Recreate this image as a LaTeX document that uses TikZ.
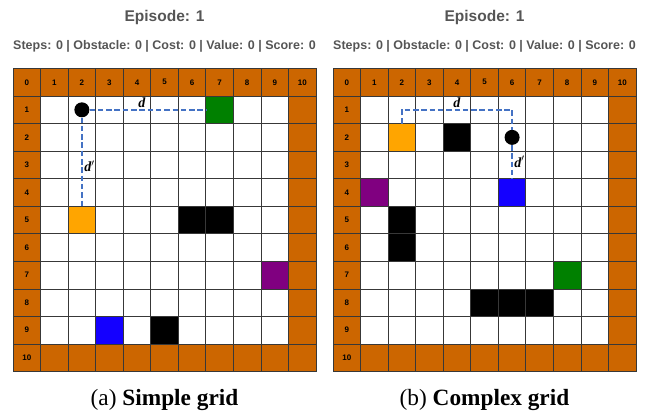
\documentclass[tikz,border=0pt]{standalone}
\usepackage{amsmath}
\usepackage{fontspec}
\setmainfont{Liberation Serif}
\setsansfont{Liberation Sans}
\usetikzlibrary{positioning}

\definecolor{wall}{RGB}{204,102,0}
\definecolor{goalgreen}{RGB}{0,128,0}
\definecolor{itemorange}{RGB}{255,165,0}
\definecolor{trapblue}{RGB}{20,0,255}
\definecolor{portalpurple}{RGB}{128,0,128}
\definecolor{distblue}{RGB}{68,114,196}
\definecolor{titlegray}{RGB}{85,85,85}

% border walls of an 11x11 board
\newcommand{\boardwalls}{%
  \fill[wall] (0,0) rectangle (11,1);
  \fill[wall] (0,1) rectangle (1,11);
  \fill[wall] (10,1) rectangle (11,11);
  \fill[wall] (1,10) rectangle (10,11);
}
% grid lines and index labels (#1 = board prefix)
\newcommand{\boardlines}[1]{%
  \foreach \i in {0,...,11} {
    \draw[gridline] (\i,0) -- (\i,11);
    \draw[gridline] (0,\i) -- (11,\i);
  }
  \foreach \i in {0,...,10} {\node[lab] (#1col\i) at (\i+.5,.5) {\i};}
  \foreach \i in {1,...,10} {\node[lab] (#1row\i) at (.5,\i+.5) {\i};}
}

\begin{document}
\begin{tikzpicture}[x=1pt, y=-1pt,
    cell/.style={minimum size=27.55pt, inner sep=0pt, outer sep=0pt},
    agent/.style={circle, fill=black, minimum size=15pt, inner sep=0pt},
    gridline/.style={draw=black!78, line width=0.75pt},
    lab/.style={font=\sffamily\bfseries\fontsize{8}{9}\selectfont, inner sep=0pt},
    dist/.style={draw=distblue, line width=1.8pt, dash pattern=on 5.5pt off 2.8pt},
    dlab/.style={font=\bfseries\itshape\fontsize{14}{16}\selectfont, inner sep=1.5pt},
    headtxt/.style={font=\sffamily\bfseries\fontsize{15.5}{18}\selectfont, text=titlegray},
    statstxt/.style={font=\sffamily\bfseries\fontsize{12.5}{15}\selectfont, text=titlegray},
    capt/.style={font=\fontsize{23.3}{27}\selectfont}
  ]
  \useasboundingbox (0,0) rectangle (660,414);

  % -- headings and captions --
  \node[headtxt]  (headA)  at (164.5,17)   {Episode: 1};
  \node[statstxt] (statsA) at (164.5,46.5) {Steps: 0 | Obstacle: 0 | Cost: 0 | Value: 0 | Score: 0};
  \node[capt]     (captA)  at (164.5,400)  {(a) \textbf{Simple grid}};
  \node[headtxt]  (headB)  at (484.5,17)   {Episode: 1};
  \node[statstxt] (statsB) at (484.5,46.5) {Steps: 0 | Obstacle: 0 | Cost: 0 | Value: 0 | Score: 0};
  \node[capt]     (captB)  at (484.5,400)  {(b) \textbf{Complex grid}};

  % -- simple grid --
  \begin{scope}[shift={(13,68.5)}, x=27.55pt, y=-27.55pt]
    \boardwalls
    \node[cell, fill=goalgreen]    (goalA)   at (7.5,1.5) {};
    \node[cell, fill=itemorange]   (itemA)   at (2.5,5.5) {};
    \node[cell, fill=black]        (wallA1)  at (6.5,5.5) {};
    \node[cell, fill=black]        (wallA2)  at (7.5,5.5) {};
    \node[cell, fill=portalpurple] (portalA) at (9.5,7.5) {};
    \node[cell, fill=trapblue]     (trapA)   at (3.5,9.5) {};
    \node[cell, fill=black]        (wallA3)  at (5.5,9.5) {};
    \boardlines{A}
    \node[agent] (agentA) at (2.5,1.5) {};
    \draw[dist] (agentA) -- node[dlab, above, pos=0.45] {d} (goalA.west);
    \draw[dist] (agentA) -- node[dlab, right, pos=0.55] {d$'$} (itemA.north);
  \end{scope}

  % -- complex grid --
  \begin{scope}[shift={(333,68.5)}, x=27.55pt, y=-27.55pt]
    \boardwalls
    \node[cell, fill=itemorange]   (itemB)   at (2.5,2.5) {};
    \node[cell, fill=black]        (wallB1)  at (4.5,2.5) {};
    \node[cell, fill=portalpurple] (portalB) at (1.5,4.5) {};
    \node[cell, fill=trapblue]     (trapB)   at (6.5,4.5) {};
    \node[cell, fill=black]        (wallB2)  at (2.5,5.5) {};
    \node[cell, fill=black]        (wallB3)  at (2.5,6.5) {};
    \node[cell, fill=goalgreen]    (goalB)   at (8.5,7.5) {};
    \node[cell, fill=black]        (wallB4)  at (5.5,8.5) {};
    \node[cell, fill=black]        (wallB5)  at (6.5,8.5) {};
    \node[cell, fill=black]        (wallB6)  at (7.5,8.5) {};
    \boardlines{B}
    \node[agent] (agentB) at (6.5,2.5) {};
    \coordinate (bendB1) at (2.5,1.5);
    \coordinate (bendB2) at (6.5,1.5);
    \draw[dist] (itemB.north) -- (bendB1) -- node[dlab, above, pos=0.5] {d} (bendB2) -- (agentB);
    \draw[dist] (agentB) -- node[dlab, right, pos=0.5] {d$'$} (trapB.north);
  \end{scope}
\end{tikzpicture}
\end{document}
